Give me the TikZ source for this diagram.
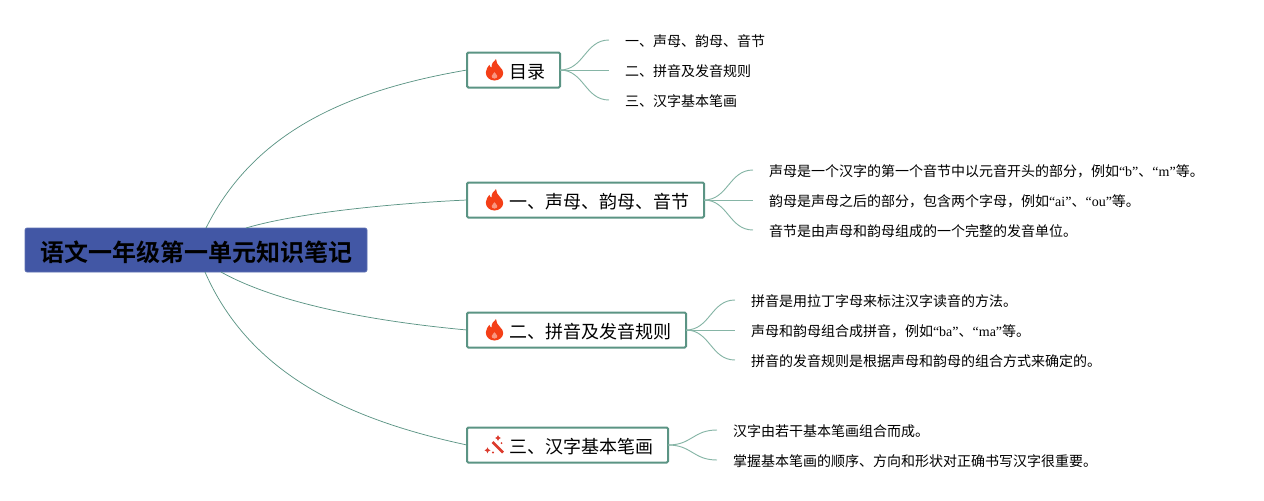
\documentclass[tikz,border=0pt]{standalone}
\usepackage{fontspec}
\setmainfont{Liberation Serif}
\newfontfamily\cjk{Noto Sans CJK SC}
\newfontfamily\cjkb{Noto Sans CJK SC Bold}
\newcommand{\la}[1]{{\rmfamily\selectfont\normalfont #1}}
\newcommand{\ttl}[1]{\hspace*{21pt}#1\hspace*{0.75pt}}
\definecolor{edgegreen}{HTML}{5B9484}
\definecolor{lightgreen}{HTML}{86B5A6}
\definecolor{rootblue}{HTML}{4257A5}
\definecolor{flamered}{HTML}{F43F17}
\definecolor{wandred}{HTML}{DC3A2C}
\tikzset{
  x=0.75pt,y=-0.75pt,
  rootbox/.style={draw=rootblue!85!white,fill=rootblue,rounded corners=1.5pt,line width=0.5pt,
    inner xsep=11.25pt,inner ysep=0pt,minimum height=33pt,anchor=west,outer sep=0pt,
    text height=16.7pt,text depth=0pt,
    font=\cjkb\fontsize{18pt}{20pt}\selectfont,text=black},
  titlebox/.style={draw=edgegreen,fill=white,rounded corners=1pt,line width=1.5pt,
    inner xsep=10.5pt,inner ysep=0pt,minimum height=26.25pt,anchor=west,outer sep=0pt,
    text height=12.8pt,text depth=0pt,
    font=\cjk\fontsize{13.5pt}{16pt}\selectfont,text=black},
  leaf/.style={anchor=west,inner xsep=12pt,inner ysep=0pt,outer sep=0pt,
    text height=10.2pt,text depth=0pt,
    font=\cjk\fontsize{10.5pt}{13pt}\selectfont,text=black},
  mainlink/.style={draw=edgegreen,line width=0.55pt},
  leaflink/.style={draw=lightgreen,line width=0.7pt},
  flameicon/.pic={
    \fill[flamered] (0,10.5) .. controls (-5,10.5) and (-8.7,7) .. (-8.7,2.5)
      .. controls (-8.7,-1) and (-6.5,-3) .. (-5.2,-5.2)
      .. controls (-4.6,-3.6) and (-4,-2.8) .. (-3,-2.4)
      .. controls (-3,-6) and (-1.5,-9) .. (1.5,-10.8)
      .. controls (1.3,-7.5) and (3.5,-5.5) .. (5.5,-3)
      .. controls (7.5,-0.8) and (8.7,0.5) .. (8.7,3)
      .. controls (8.7,7) and (5,10.5) .. (0,10.5) -- cycle;
    \fill[flamered!55!white] (0,8.6) .. controls (-2,8.6) and (-3,7.2) .. (-2.8,6)
      .. controls (-2.6,4.6) and (-0.8,3.8) .. (0,2.2)
      .. controls (0.8,3.8) and (2.6,4.6) .. (2.8,6)
      .. controls (3,7.2) and (2,8.6) .. (0,8.6) -- cycle;
  },
  wandicon/.pic={
    \draw[wandred,line width=1.9pt] (-2,-3) -- (8.5,7.5);
    \fill[wandred] (3.5,-10) -- (4.4,-8) -- (6.5,-7) -- (4.4,-6) -- (3.5,-4) -- (2.6,-6) -- (0.5,-7) -- (2.6,-8) -- cycle;
    \fill[wandred] (3.5,-7) circle (1.6);
    \fill[wandred] (-7,2.3) -- (-6.1,4.3) -- (-4,5.3) -- (-6.1,6.3) -- (-7,8.3) -- (-7.9,6.3) -- (-10,5.3) -- (-7.9,4.3) -- cycle;
    \fill[wandred] (-7,5.3) circle (1.6);
    \fill[wandred] (-1.5,7.5) circle (1.1);
    \fill[wandred] (7,-2) circle (1);
  }
}
\begin{document}
\begin{tikzpicture}
\useasboundingbox (0,0) rectangle (1264,500);

% nodes
\node[rootbox] (root) at (25,250) {语文一年级第一单元知识笔记};
\coordinate (r1) at (206,228);
\coordinate (r2) at (246,228);
\coordinate (r3) at (221,272);
\coordinate (r4) at (205,272);

\node[titlebox] (t0) at (467,70)  {\ttl{目录}};
\node[titlebox] (t1) at (467,200) {\ttl{一、声母、韵母、音节}};
\node[titlebox] (t2) at (467,330) {\ttl{二、拼音及发音规则}};
\node[titlebox] (t3) at (467,445) {\ttl{三、汉字基本笔画}};

\pic at (494.5,70) {flameicon};
\pic at (494.5,200) {flameicon};
\pic at (494.5,330) {flameicon};
\pic at (494.5,445) {wandicon};

\node[leaf] (a1) at (609,40)  {一、声母、韵母、音节};
\node[leaf] (a2) at (609,70)  {二、拼音及发音规则};
\node[leaf] (a3) at (609,100) {三、汉字基本笔画};

\node[leaf] (b1) at (753,170) {声母是一个汉字的第一个音节中以元音开头的部分，例如\la{“b”}、\la{“m”}等。};
\node[leaf] (b2) at (753,200) {韵母是声母之后的部分，包含两个字母，例如\la{“ai”}、\la{“ou”}等。};
\node[leaf] (b3) at (753,230) {音节是由声母和韵母组成的一个完整的发音单位。};

\node[leaf] (c1) at (735,300) {拼音是用拉丁字母来标注汉字读音的方法。};
\node[leaf] (c2) at (735,330) {声母和韵母组合成拼音，例如\la{“ba”}、\la{“ma”}等。};
\node[leaf] (c3) at (735,360) {拼音的发音规则是根据声母和韵母的组合方式来确定的。};

\node[leaf] (d1) at (717,430) {汉字由若干基本笔画组合而成。};
\node[leaf] (d2) at (717,460) {掌握基本笔画的顺序、方向和形状对正确书写汉字很重要。};

% root connectors
\path[mainlink] (r1) .. controls (255,130) and (350,90) .. (t0.west);
\path[mainlink] (r2) .. controls (300,212) and (400,203) .. (t1.west);
\path[mainlink] (r3) .. controls (280,305) and (380,322) .. (t2.west);
\path[mainlink] (r4) .. controls (250,375) and (350,420) .. (t3.west);

% leaf connectors
\foreach \p/\c in {t0/a1,t0/a2,t0/a3,t1/b1,t1/b2,t1/b3,t2/c1,t2/c2,t2/c3,t3/d1,t3/d2}{
  \path[leaflink] (\p.east) .. controls +(24,0) and ([xshift=-18pt]\c.west) .. (\c.west);
}
\end{tikzpicture}
\end{document}
